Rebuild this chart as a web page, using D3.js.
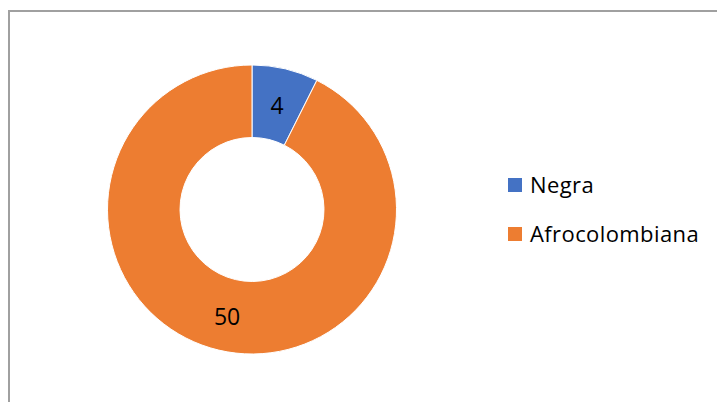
<!DOCTYPE html>
<html>
<head>
<meta charset="utf-8">
<script src="https://cdn.jsdelivr.net/npm/d3@7"></script>
<style>
  body { margin: 0; background: #fff; }
  text { font-family: "Open Sans", Lato, sans-serif; fill: #000; }
</style>
</head>
<body>
<div id="chart"></div>
<script>
var categories = ['Negra', 'Afrocolombiana'];
var values = [4, 50];
var colors = ['#4472c4', '#ed7d31'];

var width = 717,
	height = 402;

var cx = 252,
	cy = 209.5,
	outerR = 144.5,
	innerR = 72;

var svg = d3.select('#chart').append('svg')
			.attr('width', width)
			.attr('height', height);

// chart frame
svg.append('rect')
	.attr('x', 9)
	.attr('y', 11)
	.attr('width', width + 10)
	.attr('height', height + 10)
	.attr('fill', 'none')
	.attr('stroke', '#a0a0a0')
	.attr('stroke-width', 2);

var color = d3.scaleOrdinal()
				.domain(categories)
				.range(colors);

var pie = d3.pie()
			.sort(null)
			.value(function(d) { return d.value; });

var data = categories.map(function(c, i) {
	return { name: c, value: values[i] };
});

var arc = d3.arc()
			.innerRadius(innerR)
			.outerRadius(outerR);

var g = svg.append('g')
			.attr('transform', 'translate(' + cx + ',' + cy + ')');

var arcs = pie(data);

g.selectAll('path').data(arcs).enter()
	.append('path')
		.attr('d', arc)
		.attr('fill', function(d) { return color(d.data.name); })
		.attr('stroke', '#fff')
		.attr('stroke-width', 1);

// value labels
var labelArc = d3.arc()
				.innerRadius((innerR + outerR) / 2)
				.outerRadius((innerR + outerR) / 2);

g.selectAll('text.val').data(arcs).enter()
	.append('text')
		.attr('class', 'val')
		.attr('transform', function(d) {
			return 'translate(' + labelArc.centroid(d) + ')';
		})
		.attr('text-anchor', 'middle')
		.attr('y', 2)
		.attr('dy', '0.36em')
		.style('font-size', '23px')
		.text(function(d) { return d.data.value; });

// legend
var legend = svg.append('g')
				.attr('transform', 'translate(508,178)');

var items = legend.selectAll('g').data(categories).enter()
				.append('g')
					.attr('transform', function(d, i) {
						return 'translate(0,' + (i * 49) + ')';
					});

items.append('rect')
	.attr('width', 14)
	.attr('height', 14)
	.attr('fill', function(d) { return color(d); });

items.append('text')
	.attr('x', 22)
	.attr('y', 7)
	.attr('dy', '0.36em')
	.style('font-size', '22px')
	.style('letter-spacing', '0.4px')
	.text(function(d) { return d; });
</script>
</body>
</html>
